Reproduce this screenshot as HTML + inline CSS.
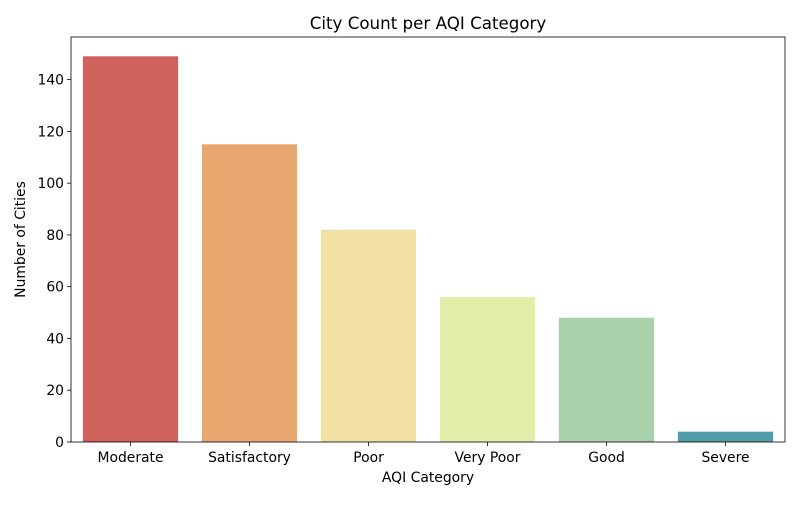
<!DOCTYPE html>
<html><head><meta charset="utf-8"><style>
body{margin:0;background:#fff;font-family:"Liberation Sans","DejaVu Sans",sans-serif}
svg text{font-family:"DejaVu Sans","Liberation Sans",sans-serif}
</style></head><body>
<svg id="chart" width="800" height="500" xmlns="http://www.w3.org/2000/svg">
<rect width="800" height="500" fill="#fff"/>
<g id="plot"></g>
</svg>
<script>
const categories=["Moderate","Satisfactory","Poor","Very Poor","Good","Severe"];
const counts=[149,115,82,56,48,4];
const colors=["#d0625d","#e8a76f","#f3e0a5","#e3eeab","#a9d1aa","#4f9ca8"];
const yTicks=[0,20,40,60,80,100,120,140];
const L=71,R=785,T=37,B=442;
const ymax=Math.max(...counts)*1.05;
const y=v=>B-(v/ymax)*(B-T);
const step=(R-L)/categories.length;
const x=i=>L+step*(i+0.5);
const ns="http://www.w3.org/2000/svg";
const g=document.getElementById('plot');
function mk(t,a,txt){const e=document.createElementNS(ns,t);for(const k in a)e.setAttribute(k,a[k]);if(txt!=null)e.textContent=txt;g.appendChild(e);return e;}
categories.forEach((c,i)=>{
 const bw=step*0.8;
 const r=mk('rect',{x:x(i)-bw/2,y:y(counts[i]),width:bw,height:B-y(counts[i]),fill:colors[i]});
 
 
 const tk=mk('line',{x1:x(i),x2:x(i),y1:B,y2:B+4,stroke:'#000','stroke-width':0.8});
 
 
 const t=mk('text',{x:x(i),y:B+20,'text-anchor':'middle','font-size':13.9},c);
 
 
});
yTicks.forEach(v=>{
 const tk=mk('line',{x1:L-4,x2:L,y1:y(v),y2:y(v),stroke:'#000','stroke-width':0.8});
 
 
 const t=mk('text',{x:L-7,y:y(v)+5,'text-anchor':'end','font-size':13.9},v);
 
 
});
const fr=mk('rect',{x:L,y:T,width:R-L,height:B-T,fill:'none',stroke:'#000','stroke-width':0.8});


const ti=mk('text',{x:(L+R)/2,y:T-8,'text-anchor':'middle','font-size':16.7},'City Count per AQI Category');


const xt=mk('text',{x:(L+R)/2,y:482,'text-anchor':'middle','font-size':13.9},'AQI Category');


const yt=mk('text',{x:25,y:(T+B)/2,'text-anchor':'middle','font-size':13.9,transform:`rotate(-90 25 ${(T+B)/2})`},'Number of Cities');


</script>
</body></html>
